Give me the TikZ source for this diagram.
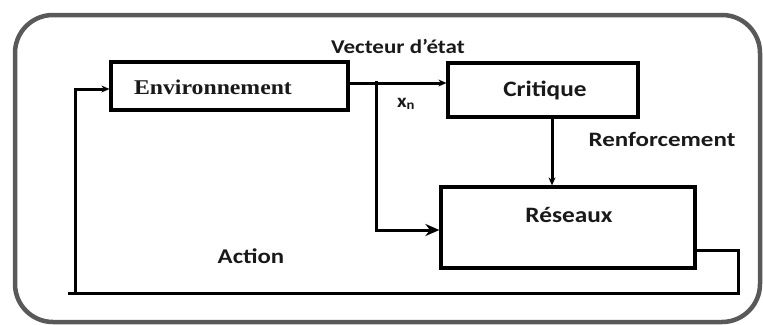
\documentclass[tikz,border=0pt]{standalone}
\usepackage{fontspec}
\setmainfont{Liberation Serif}
\newfontfamily\labfont{Carlito}
\usetikzlibrary{arrows.meta}
\newcommand{\widen}[2]{\scalebox{#1}[1]{#2}}
\begin{document}
\begin{tikzpicture}[x=1pt,y=-1pt,
  box/.style={draw=black, line width=3.2pt, fill=white, inner sep=0pt},
  wire/.style={draw=black, line width=3pt},
  arr/.style={wire, -{Stealth[length=8pt,width=7pt]}},
  bigarr/.style={wire, -{Stealth[length=14pt,width=12pt]}},
  sanslab/.style={font=\labfont\bfseries, inner sep=0pt, text=black!90},
  serlab/.style={font=\bfseries, inner sep=0pt, text=black!90}]
\useasboundingbox (0,0) rectangle (763,324);

% outer frame
\draw[line width=4.5pt, draw=black!65, rounded corners=38pt] (15,15) rectangle (760,322);

% blocks
\node[box, minimum width=237pt, minimum height=48pt] (env) at (229.5,86) {};
\node[box, minimum width=190pt, minimum height=54pt] (crit) at (543,90) {};
\node[box, minimum width=254pt, minimum height=81pt] (res) at (568,227.5) {};

% block titles
\node[serlab, font=\fontsize{21}{21}\selectfont\bfseries] (envt) at (213,87) {\widen{1.13}{Environnement}};
\node[sanslab, font=\labfont\fontsize{22}{22}\selectfont\bfseries] (critt) at (545,90) {\widen{1.15}{Critique}};
\node[sanslab, font=\labfont\fontsize{22}{22}\selectfont\bfseries] (rest) at (569,215) {\widen{1.15}{Réseaux}};

% state vector to the critic
\draw[arr] ([yshift=3pt]env.east) -- ([yshift=3pt]env.east -| crit.west);

% state vector tapped towards the network
\coordinate (stub) at (376,81);
\coordinate (tap) at (376,230);
\draw[bigarr] (stub) -- (tap) -- (tap -| res.west);

% reinforcement signal
\draw[arr] ([xshift=9pt]crit.south) -- ([xshift=9pt]crit.south |- res.north);

% action fed back to the environment
\coordinate (rout) at (695,250);
\coordinate (rc) at (738,250);
\coordinate (bc) at (738,293);
\coordinate (bl) at (68,293);
\coordinate (lb) at (75,293);
\coordinate (lt) at (75,89);
\draw[wire] (rout) -- (rc) -- (bc) -- (bl);
\draw[arr] (lb) -- (lt) -- (lt -| env.west);

% signal labels
\node[sanslab, font=\labfont\fontsize{19.5}{19.5}\selectfont\bfseries] (vec) at (398,46) {\widen{1.18}{Vecteur d’état}};
\node[sanslab, font=\labfont\fontsize{19}{19}\selectfont\bfseries] (xn) at (406,104) {\widen{1.1}{x\textsubscript{n}}};
\node[sanslab, font=\labfont\fontsize{20.5}{20.5}\selectfont\bfseries] (renf) at (662,139) {\widen{1.22}{Renforcement}};
\node[sanslab, font=\labfont\fontsize{21}{21}\selectfont\bfseries] (act) at (251,256) {\widen{1.18}{Action}};
\end{tikzpicture}
\end{document}
